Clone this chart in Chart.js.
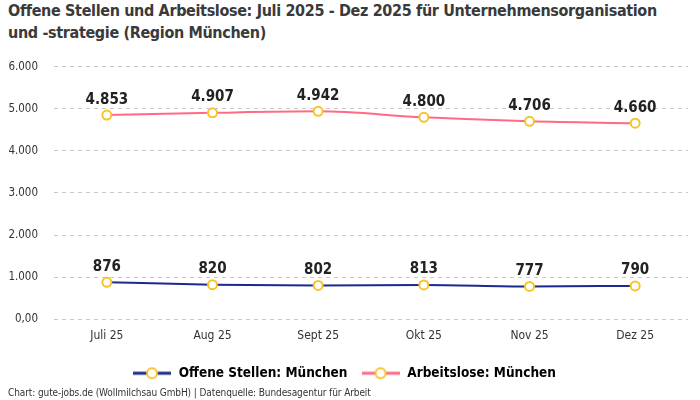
<!DOCTYPE html>
<html>
<head>
<meta charset="utf-8">
<script src="https://cdn.jsdelivr.net/npm/chart.js@4"></script>
<style>
  body { margin: 0; background: #fff; font-family: "DejaVu Sans Condensed", "Liberation Sans Narrow", sans-serif; }
  #wrap { width: 700px; height: 400px; position: relative; }
  h1 { position: absolute; left: 8px; top: 0px; margin: 0; font-size: 16px; line-height: 22px; font-weight: bold; color: #3a3a3a; width: 662px; letter-spacing: -0.35px; }
  #box { position: absolute; left: 0; top: 44px; width: 700px; height: 346px; }
  #src { position: absolute; left: 8px; top: 387px; font-size: 10px; color: #333; letter-spacing: -0.1px; }
</style>
</head>
<body>
<div id="wrap">
  <h1>Offene Stellen und Arbeitslose: Juli 2025 - Dez 2025 für Unternehmensorganisation und -strategie (Region München)</h1>
  <div id="box"><canvas id="chart"></canvas></div>
  <div id="src">Chart: gute-jobs.de (Wollmilchsau GmbH) | Datenquelle: Bundesagentur für Arbeit</div>
</div>
<script>
// Daten
const monate = ['Juli 25', 'Aug 25', 'Sept 25', 'Okt 25', 'Nov 25', 'Dez 25'];
const offeneStellen = [876, 820, 802, 813, 777, 790];
const arbeitslose = [4853, 4907, 4942, 4800, 4706, 4660];
const yTicks = [0, 1000, 2000, 3000, 4000, 5000, 6000];

const fontFam = '"DejaVu Sans Condensed", "Liberation Sans Narrow", sans-serif';
const fmt = v => v.toLocaleString('de-DE');
const punktFarbe = '#f7c325';

// Legendensymbol: Linie mit Kreis in der Mitte
function legendIcon(farbe) {
    const cv = document.createElement('canvas');
    cv.width = 38; cv.height = 14;
    const c = cv.getContext('2d');
    c.strokeStyle = farbe;
    c.lineWidth = 3;
    c.beginPath(); c.moveTo(0, 7); c.lineTo(38, 7); c.stroke();
    c.beginPath(); c.arc(19, 7, 5, 0, Math.PI * 2);
    c.fillStyle = '#fff'; c.fill();
    c.strokeStyle = punktFarbe; c.lineWidth = 2; c.stroke();
    return cv;
}

// Zahlen über den Punkten
const wertLabels = {
    id: 'wertLabels',
    afterDatasetsDraw(chart) {
        const c = chart.ctx;
        c.save();
        c.font = 'bold 15px ' + fontFam;
        c.fillStyle = '#222';
        c.textAlign = 'center';
        c.textBaseline = 'bottom';
        chart.data.datasets.forEach((ds, i) => {
            chart.getDatasetMeta(i).data.forEach((pt, j) => {
                c.fillText(fmt(ds.data[j]), pt.x, pt.y - 8);
            });
        });
        c.restore();
    }
};

new Chart(document.getElementById('chart'), {
    type: 'line',
    data: {
        labels: monate,
        datasets: [
            {
                label: 'Offene Stellen: München',
                data: offeneStellen,
                borderColor: '#1b2a8c',
                backgroundColor: '#fff',
                borderWidth: 2,
                pointBorderColor: punktFarbe,
                pointBackgroundColor: '#fff',
                pointBorderWidth: 2,
                pointRadius: 4.5,
                cubicInterpolationMode: 'monotone'
            },
            {
                label: 'Arbeitslose: München',
                data: arbeitslose,
                borderColor: '#ff6b84',
                backgroundColor: '#fff',
                borderWidth: 2,
                pointBorderColor: punktFarbe,
                pointBackgroundColor: '#fff',
                pointBorderWidth: 2,
                pointRadius: 4.5,
                cubicInterpolationMode: 'monotone'
            }
        ]
    },
    options: {
        responsive: true,
        maintainAspectRatio: false,
        animation: false,
        layout: { padding: { left: 0, right: 12, top: 0, bottom: 0 } },
        plugins: {
            legend: {
                position: 'bottom',
                labels: {
                    usePointStyle: true,
                    pointStyleWidth: 40,
                    color: '#333',
                    font: { family: fontFam, size: 13.5, weight: 'bold' },
                    padding: 13,
                    generateLabels(chart) {
                        return chart.data.datasets.map((ds, i) => ({
                            text: ds.label,
                            pointStyle: legendIcon(ds.borderColor),
                            fillStyle: ds.borderColor,
                            strokeStyle: ds.borderColor,
                            lineWidth: 0,
                            datasetIndex: i
                        }));
                    }
                }
            },
            tooltip: { enabled: false }
        },
        scales: {
            x: {
                offset: true,
                grid: { display: false, drawTicks: false },
                border: { display: false },
                ticks: { color: '#333', font: { family: fontFam, size: 12 }, padding: 10 }
            },
            y: {
                min: 0,
                max: 6000,
                afterBuildTicks(axis) { axis.ticks = yTicks.map(v => ({ value: v })); },
                afterFit(axis) { axis.width = 54; },
                grid: { color: '#c8c8c8', drawTicks: false },
                border: { display: false, dash: [4, 4] },
                ticks: {
                    color: '#333',
                    padding: 16,
                    font: { family: fontFam, size: 11.5 },
                    callback: v => v === 0 ? '0,00' : fmt(v)
                }
            }
        }
    },
    plugins: [wertLabels]
});
</script>
</body>
</html>
